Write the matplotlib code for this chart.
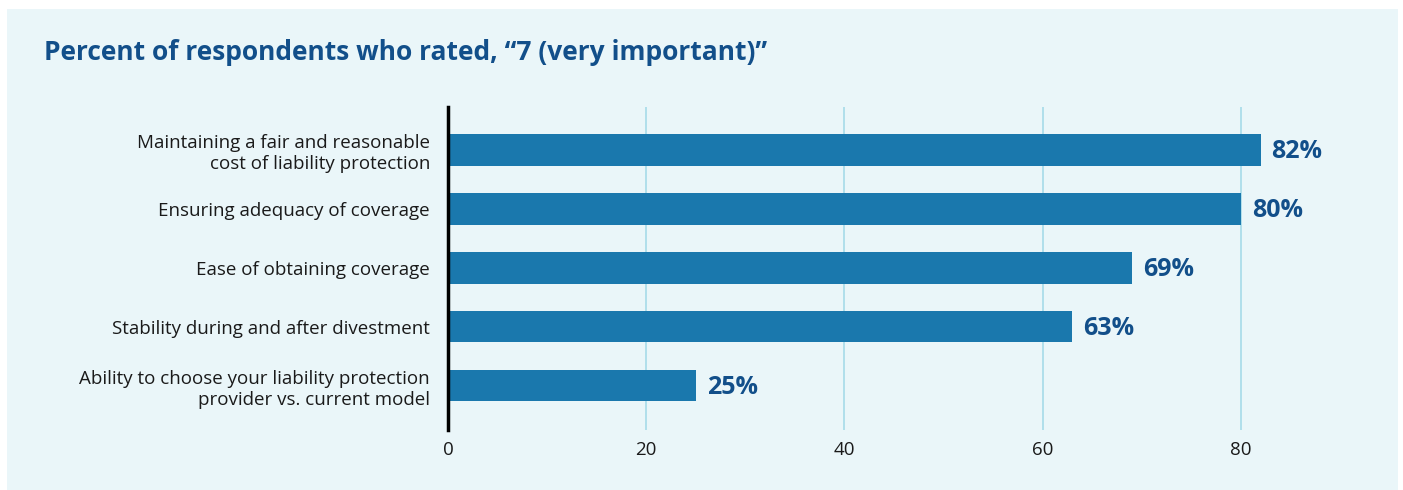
import matplotlib.pyplot as plt
from matplotlib.patches import Rectangle

categories = [
    "Maintaining a fair and reasonable\ncost of liability protection",
    "Ensuring adequacy of coverage",
    "Ease of obtaining coverage",
    "Stability during and after divestment",
    "Ability to choose your liability protection\nprovider vs. current model",
]
values = [82, 80, 69, 63, 25]
xticks = [0, 20, 40, 60, 80]
title = "Percent of respondents who rated, \u201c7 (very important)\u201d"

bg = "#eaf6f9"
bar_color = "#1a78ad"
dark_blue = "#124f8a"

plt.rcParams['font.family'] = ['Open Sans', 'DejaVu Sans']

fig = plt.figure(figsize=(14.03, 4.9), dpi=100)
fig.patch.set_facecolor("white")
# light panel behind the chart
fig.patches.append(Rectangle((7 / 1403, 0), 1391 / 1403, 481 / 490,
                             transform=fig.transFigure, facecolor=bg,
                             edgecolor="none", zorder=-1))

ax = fig.add_axes([448 / 1403, 60 / 490, 892 / 1403, 323 / 490])
ax.patch.set_alpha(0)

y = list(range(len(categories)))
ax.barh(y, values, height=0.53, color=bar_color, zorder=3)
for yi, v in zip(y, values):
    ax.text(v + 1.1, yi + 0.03, f"{v}%", va="center", ha="left", fontsize=18,
            fontweight="bold", color=dark_blue)

ax.set_ylim(4.75, -0.73)
ax.set_xlim(0, 90)
ax.set_yticks(y)
ax.set_yticklabels(categories, fontsize=13.5, color="#1a1a1a",
                   linespacing=1.2)
ax.set_xticks(xticks)
ax.set_xticklabels([str(t) for t in xticks], fontsize=13.5, color="#1a1a1a")
ax.tick_params(axis="both", length=0)
ax.tick_params(axis="y", pad=13)
ax.tick_params(axis="x", pad=8)
for lbl in ax.get_yticklabels():
    lbl.set_horizontalalignment("right")

ax.grid(axis="x", color="#a6dbe9", linewidth=1.2, zorder=0)
for s in ["top", "right", "bottom"]:
    ax.spines[s].set_visible(False)
ax.spines["left"].set_linewidth(2.5)
ax.spines["left"].set_color("black")
ax.spines["left"].set_zorder(4)

fig.text(44 / 1403, 1 - 53 / 490, title, fontsize=19, fontweight="bold",
         color=dark_blue, va="center", ha="left")

fig.savefig("out.png", dpi=100)
